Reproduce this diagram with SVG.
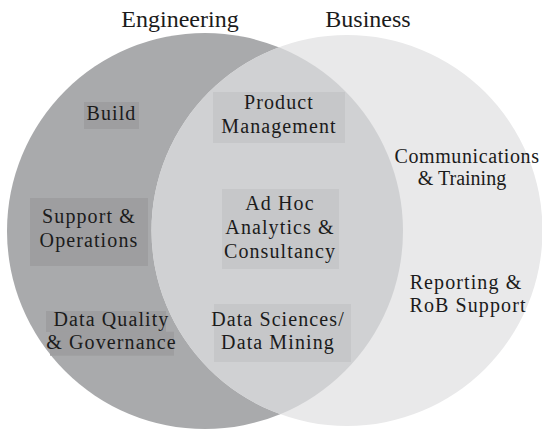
<svg xmlns="http://www.w3.org/2000/svg" width="542" height="433" viewBox="0 0 542 433">
<style>
.t{font-family:"Liberation Serif","Times New Roman",serif;font-size:20px;fill:#1b1b1b;text-anchor:middle;letter-spacing:1.1px}
.ti{font-family:"Liberation Serif","Times New Roman",serif;font-size:24px;fill:#1b1b1b;text-anchor:middle}
.c{font-family:"Liberation Serif","Times New Roman",serif;font-size:20px;fill:#1b1b1b;text-anchor:middle}
.bl{fill:#9e9ea0}
.bi{fill:#c6c7c9}
</style>
<defs>
<clipPath id="lc"><circle cx="205" cy="231" r="198"/></clipPath>
</defs>
<rect width="542" height="433" fill="#ffffff"/>
<g id="circles">
<circle id="engineering-circle" cx="205" cy="231" r="198" fill="#a9aaac"/>
<circle id="business-circle" cx="347" cy="230.5" r="195.5" fill="#e9e9ea"/>
<circle id="overlap" cx="347" cy="230.5" r="195.5" fill="#d0d1d3" clip-path="url(#lc)"/>
</g>
<text class="ti" x="180" y="26.5">Engineering</text>
<text class="ti" x="368" y="26.5">Business</text>
<g id="build">
<rect class="bl" x="84" y="102" width="55" height="27"/>
<text class="t" x="111.5" y="120">Build</text>
</g>
<g id="support">
<rect class="bl" x="30" y="198" width="118" height="68"/>
<text class="t" x="89" y="223">Support &amp;</text>
<text class="t" x="89" y="246.7">Operations</text>
</g>
<g id="data-quality">
<rect class="bl" x="46" y="311" width="120" height="21"/>
<rect class="bl" x="50" y="331.7" width="124" height="24"/>
<text class="t" x="111.5" y="326">Data Quality</text>
<text class="t" x="111.5" y="349.3">&amp; Governance</text>
</g>
<g id="product-management">
<rect class="bi" x="213" y="92" width="132" height="51"/>
<text class="t" x="279" y="109.3">Product</text>
<text class="t" x="279" y="132.7">Management</text>
</g>
<g id="ad-hoc">
<rect class="bi" x="222" y="189" width="117" height="80"/>
<text class="t" x="280" y="210">Ad Hoc</text>
<text class="t" x="280" y="234.3">Analytics &amp;</text>
<text class="t" x="280" y="258.3">Consultancy</text>
</g>
<g id="data-sciences">
<rect class="bi" x="214" y="304" width="137" height="58"/>
<text class="t" x="278" y="326">Data Sciences/</text>
<text class="t" x="278" y="349.3">Data Mining</text>
</g>
<g id="communications">
<text class="c" x="467" y="163" letter-spacing="0.6">Communications</text>
<text class="c" x="462" y="185">&amp; Training</text>
</g>
<g id="reporting">
<text class="t" x="466" y="288.7">Reporting &amp;</text>
<text class="t" x="468" y="312">RoB Support</text>
</g>
</svg>
